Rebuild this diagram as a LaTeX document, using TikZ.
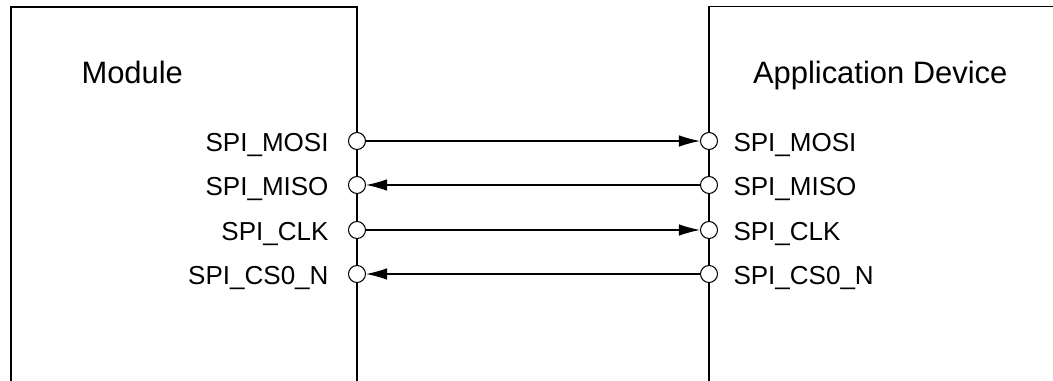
\documentclass[tikz,border=0pt]{standalone}
\usepackage{fontspec}
\setmainfont{Liberation Sans}
\usetikzlibrary{arrows.meta}
\begin{document}
\begin{tikzpicture}[>={Latex[length=4.2mm,width=2.3mm]},line width=0.6pt,
  anschluss/.style={circle,draw,fill=white,inner sep=0pt,minimum size=3.4mm},
  signal/.style={inner sep=0pt,font=\fontsize{14.8}{16}\selectfont},
  titel/.style={inner sep=0pt,font=\fontsize{17.6}{20}\selectfont}]
\useasboundingbox (0,0) rectangle (21.06,7.62);
% Gehaeuse (unten offen)
\draw (0.22,0) -- (0.22,7.48) -- (7.14,7.48) -- (7.14,0);
\draw (14.18,0) -- (14.18,7.49) -- (21.06,7.49);
% Titel
\node[titel,anchor=base west] (modul)  at (1.62,5.94)  {Module};
\node[titel,anchor=base west] (geraet) at (15.05,5.94) {Application Device};
% Anschluesse mit Beschriftung
\foreach \n/\y/\t in {MOSI/4.80/SPI\_MOSI,MISO/3.92/SPI\_MISO,
                      CLK/3.02/SPI\_CLK,CSN/2.14/SPI\_CS0\_N} {
  \node[anschluss] (m\n) at (7.14,\y) {};
  \node[anschluss] (a\n) at (14.18,\y) {};
  \node[signal,anchor=base east] (lm\n) at ([xshift=-5.6mm,yshift=-2.2mm]m\n.center) {\t};
  \node[signal,anchor=base west] (la\n) at ([xshift=4.8mm,yshift=-2.2mm]a\n.center) {\t};
}
% Signalleitungen
\draw[->] (mMOSI) -- (aMOSI);
\draw[->] (aMISO) -- (mMISO);
\draw[->] (mCLK)  -- (aCLK);
\draw[->] (aCSN)  -- (mCSN);
\end{tikzpicture}
\end{document}
